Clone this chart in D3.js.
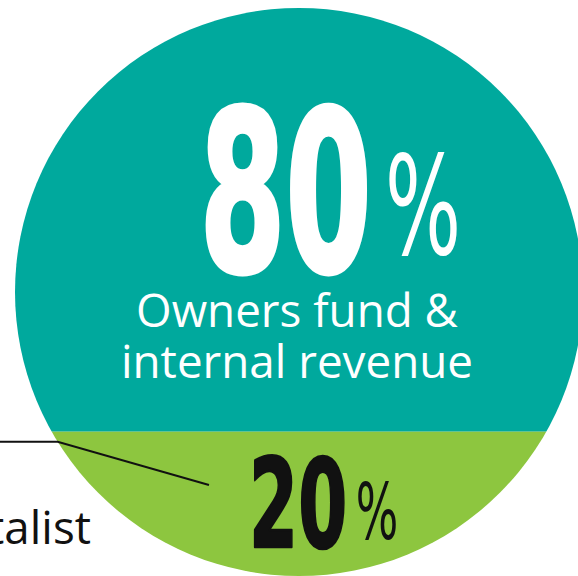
<!DOCTYPE html>
<html>
<head>
<meta charset="utf-8">
<script src="https://cdn.jsdelivr.net/npm/d3@7"></script>
<style>
  html, body { margin: 0; padding: 0; background: #fff; }
  svg { display: block; }
</style>
</head>
<body>
<div id="chart"></div>
<script>
var width = 578;
var height = 576;

// data
var categories = ["Owners fund & internal revenue", "Venture capitalist"];
var shares = [80, 20];
var labelLines = [["Owners fund &", "internal revenue"], ["Venture capitalist"]];
var colors = ["#00A99D", "#8DC63F"];
var numberColors = ["#fff", "#111"];

// circle layout
var cx = 299, cy = 292, r = 284;
var labelFont = "'Open Sans', 'Noto Sans', sans-serif";
var numFont = "'DejaVu Sans', sans-serif";

var svg = d3.select("#chart").append("svg")
    .attr("width", width)
    .attr("height", height);

// unit circle -> pixels
var y = d3.scaleLinear().domain([-1, 1]).range([cy - r, cy + r]);
var x = d3.scaleLinear().domain([-1, 1]).range([cx - r, cx + r]);

/**
 * Bottom slice is a circular segment whose area matches its share.
 * Solve theta - sin(theta) = 2*pi*f by bisection.
 */
function segmentDepth(f) {
    var lo = 0, hi = 2 * Math.PI;
    for (var i = 0; i < 60; i++) {
        var mid = (lo + hi) / 2;
        if (mid - Math.sin(mid) < 2 * Math.PI * f) lo = mid; else hi = mid;
    }
    return 1 - Math.cos(lo / 2); // in radius units
}

var total = d3.sum(shares);
var depth = segmentDepth(shares[1] / total);
var split = 1 - depth; // unit coords, y down

svg.append("clipPath").attr("id", "disc")
    .append("circle")
    .attr("cx", x(0)).attr("cy", y(0)).attr("r", r);

var bands = [[-1, split], [split, 1]];
svg.append("g").attr("clip-path", "url(#disc)")
    .selectAll("rect")
    .data(bands)
    .enter()
    .append("rect")
    .attr("x", x(-1))
    .attr("width", x(1) - x(-1))
    .attr("y", function (d) { return y(d[0]); })
    .attr("height", function (d) { return y(d[1]) - y(d[0]); })
    .attr("fill", function (d, i) { return colors[i]; });

// ink measurement with canvas
var ctx = document.createElement("canvas").getContext("2d");
function ink(str, font) {
    ctx.font = font;
    var m = ctx.measureText(str);
    return {
        left: -m.actualBoundingBoxLeft, right: m.actualBoundingBoxRight,
        top: -m.actualBoundingBoxAscent, bottom: m.actualBoundingBoxDescent,
        width: m.width
    };
}

/**
 * Squeezes a string into a box [x0, y0, x1, y1] (ink bounds).
 */
function fitText(str, weight, box, fill, thick) {
    var size = 100;
    var b = ink(str, weight + " " + size + "px " + numFont);
    var pad = thick / 2;
    var sx = (box[2] - box[0] - 2 * pad) / (b.right - b.left);
    var sy = (box[3] - box[1] - 2 * pad) / (b.bottom - b.top);
    svg.append("text")
        .attr("transform", "translate(" + (box[0] + pad - b.left * sx) + "," + (box[1] + pad - b.top * sy) + ") scale(" + sx + "," + sy + ")")
        .attr("font-family", numFont)
        .attr("font-weight", weight)
        .attr("font-size", size)
        .attr("fill", fill)
        .attr("stroke", thick ? fill : "none")
        .attr("stroke-width", thick)
        .attr("vector-effect", "non-scaling-stroke")
        .attr("stroke-linejoin", "round")
        .text(str);
}

// big numbers
var numBoxes = [[205, 101, 368, 275], [253, 453, 345, 549]];
var pctBoxes = [[389, 151, 457, 255], [358, 480, 396, 540]];
var thicks = [4, 2];
shares.forEach(function (d, i) {
    fitText(String(d), "bold", numBoxes[i], numberColors[i], thicks[i]);
    fitText("%", "normal", pctBoxes[i], numberColors[i], 0);
});

// label inside the teal part
var probe = ink(labelLines[0][1], "normal 100px " + labelFont);
var labelSize = 100 * 352 / probe.width;
svg.append("text")
    .attr("font-family", labelFont)
    .attr("font-size", labelSize)
    .attr("fill", "#fff")
    .attr("text-anchor", "middle")
    .selectAll("tspan")
    .data(labelLines[0])
    .enter()
    .append("tspan")
    .attr("x", 297)
    .attr("y", function (d, i) { return 327 + i * 51; })
    .text(function (d) { return d; });

// outside label with leader line
var lineY = y(split) + 10;
var edgeX = x(-Math.sqrt(1 - Math.pow((lineY - cy) / r, 2)));
var tip = [numBoxes[1][0] - 44, numBoxes[1][1] + 32];
svg.append("path")
    .attr("d", d3.line()([[0, lineY], [edgeX, lineY], tip]))
    .attr("fill", "none")
    .attr("stroke", "#111")
    .attr("stroke-width", 2);

svg.append("text")
    .attr("x", 91)
    .attr("y", 544)
    .attr("text-anchor", "end")
    .attr("font-family", labelFont)
    .attr("font-size", labelSize)
    .attr("fill", "#111")
    .text(labelLines[1][0]);
</script>
</body>
</html>
